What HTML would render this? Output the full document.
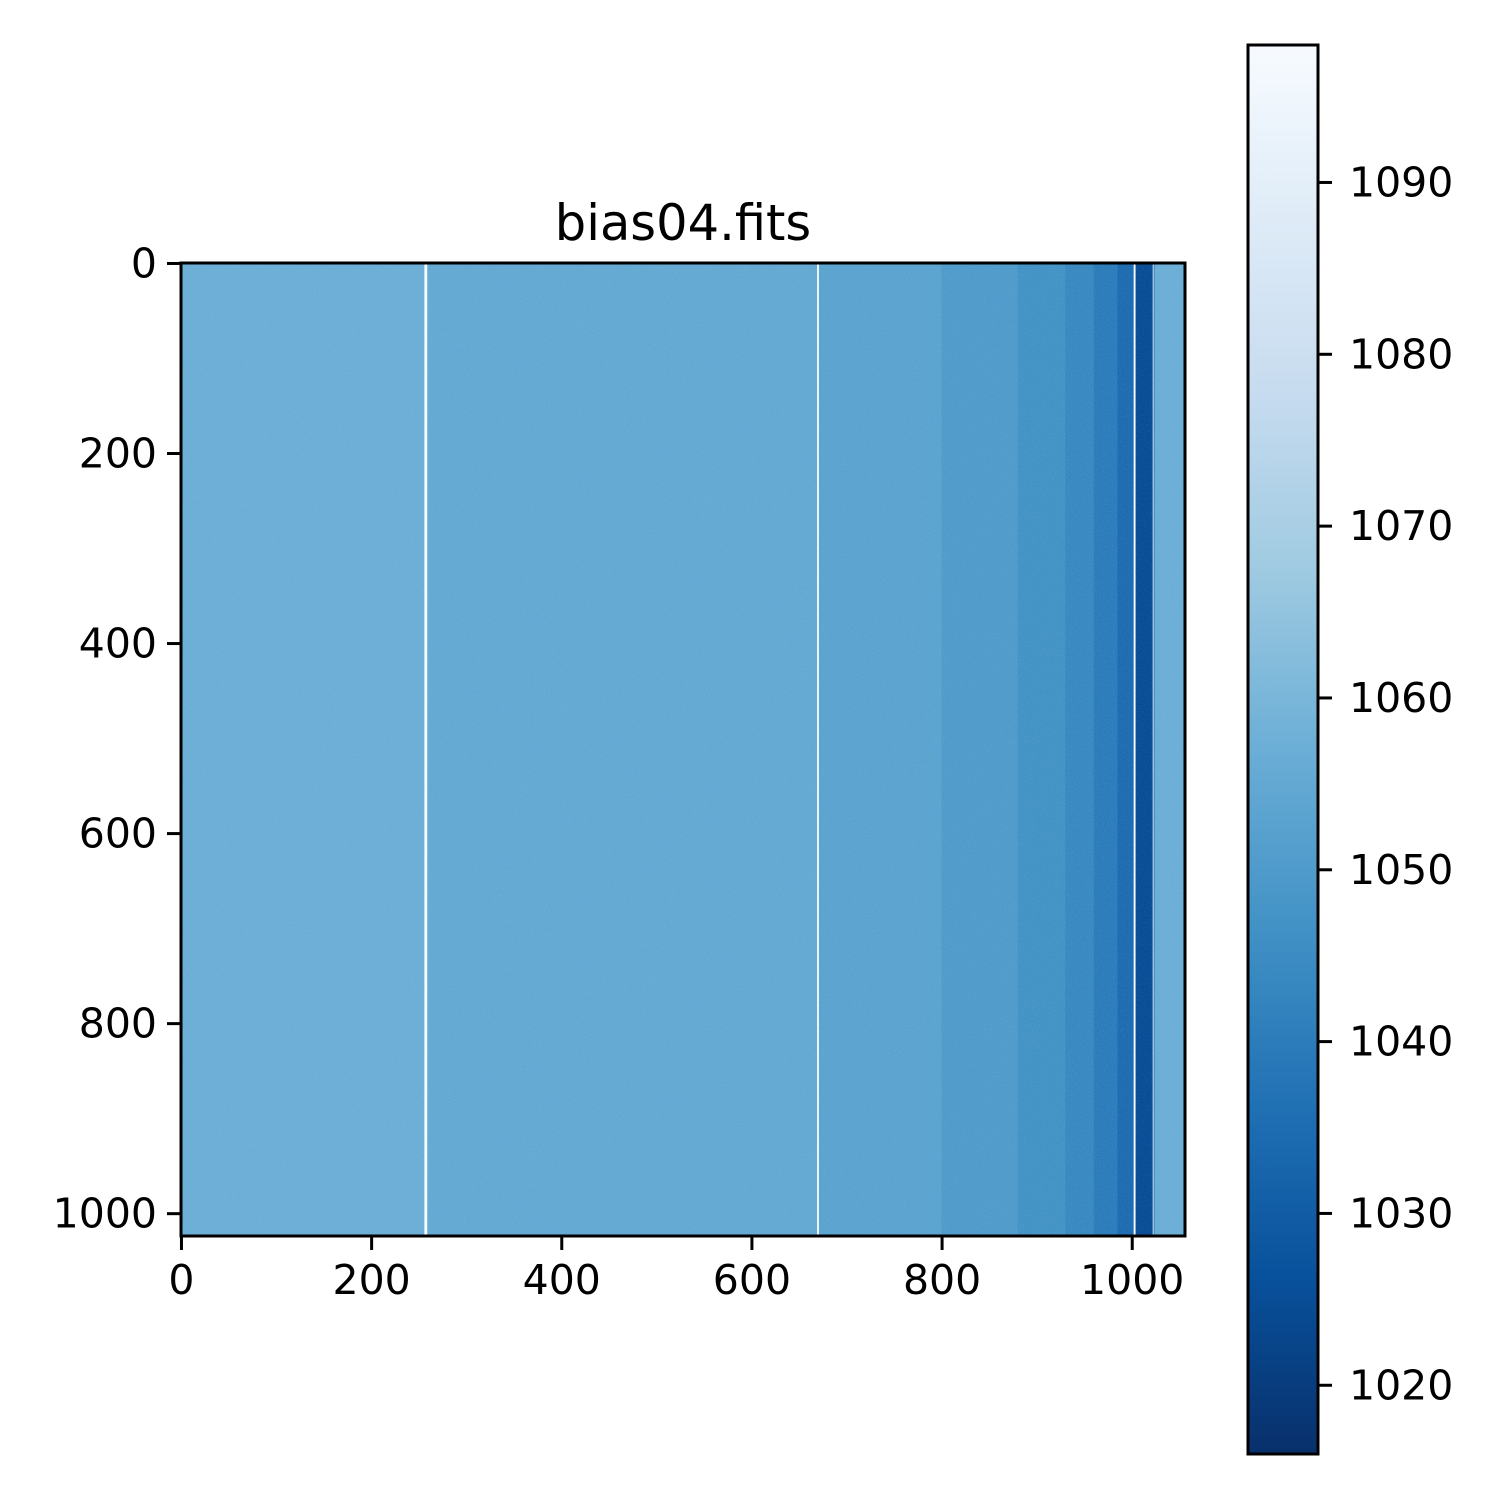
<!DOCTYPE html>
<html><head><meta charset="utf-8"><style>
html,body{margin:0;padding:0;background:#fff}
svg{display:block;font-family:"DejaVu Sans","Liberation Sans",sans-serif}
</style></head><body>
<svg id="chart" width="1500" height="1500" viewBox="0 0 1500 1500" xmlns="http://www.w3.org/2000/svg">
<defs>
<clipPath id="imgclip"><rect x="181" y="263" width="1004" height="973"/></clipPath>
<filter id="noise" x="0" y="0" width="100%" height="100%">
<feTurbulence type="fractalNoise" baseFrequency="0.9" numOctaves="2" seed="3"/>
<feColorMatrix type="matrix" values="0 0 0 0 1  0 0 0 0 1  0 0 0 0 1  0 0 0 1.6 -0.8"/>
</filter>
<linearGradient id="cbgrad" x1="0" y1="1" x2="0" y2="0">
<stop offset="0" stop-color="#08306b"/><stop offset="0.125" stop-color="#08519c"/>
<stop offset="0.25" stop-color="#2171b5"/><stop offset="0.375" stop-color="#4292c6"/>
<stop offset="0.5" stop-color="#6baed6"/><stop offset="0.625" stop-color="#9ecae1"/>
<stop offset="0.75" stop-color="#c6dbef"/><stop offset="0.875" stop-color="#deebf7"/>
<stop offset="1" stop-color="#f7fbff"/>
</linearGradient>
</defs>
<text x="683" y="240" text-anchor="middle" font-size="49.5">bias04.fits</text>
<g id="img" clip-path="url(#imgclip)"></g>
<rect x="181" y="263" width="1004" height="973" fill="#fff" filter="url(#noise)" opacity="0.18"/>
<rect x="181" y="263" width="1004" height="973" fill="none" stroke="#000" stroke-width="3"/>
<g id="xaxis"></g>
<g id="yaxis"></g>
<rect x="1248" y="45" width="70" height="1409" fill="url(#cbgrad)" stroke="#000" stroke-width="3"/>
<g id="cbaxis"></g>
</svg>
<script>
const segStart = [0,256,259,669,671,800,880,930,960,985,1002,1004,1022,1023,1024];
const segEnd   = [256,259,669,671,800,880,930,960,985,1002,1004,1022,1023,1024,1056];
const segValue = [1057,1098,1055,1096,1053,1050,1047,1044,1040,1035,1098,1025,1086,1040,1057];
const xTicks = [0,200,400,600,800,1000];
const yTicks = [0,200,400,600,800,1000];
const cbTicks = [1020,1030,1040,1050,1060,1070,1080,1090];
const nRows = 1024, nCols = 1056, vmin = 1016, vmax = 1098;

const NS = "http://www.w3.org/2000/svg";
const L=181,R=1185,T=263,B=1236;
const xs = c => L + (c+0.5)/nCols*(R-L);
const ys = r => T + (r+0.5)/nRows*(B-T);
const cbY = v => 1454 - (v-vmin)/(vmax-vmin)*1409;
const stops = ["#08306b","#08519c","#2171b5","#4292c6","#6baed6","#9ecae1","#c6dbef","#deebf7","#f7fbff"];
function cmap(v){
  let t=Math.max(0,Math.min(1,(v-vmin)/(vmax-vmin)))*8;
  let i=Math.min(7,Math.floor(t)),f=t-i;
  const h=s=>[1,3,5].map(k=>parseInt(s.substr(k,2),16));
  const a=h(stops[i]),b=h(stops[i+1]);
  return "rgb("+a.map((x,k)=>Math.round(x+(b[k]-x)*f)).join(",")+")";
}
function el(tag,attrs,parent){const e=document.createElementNS(NS,tag);for(const k in attrs)e.setAttribute(k,attrs[k]);parent.appendChild(e);return e;}
const img=document.getElementById("img");
segValue.forEach((v,i)=>{
  const x0=xs(segStart[i]-0.5), x1=xs(segEnd[i]-0.5);
  const r=el("rect",{x:x0,y:T,width:x1-x0+0.4,height:B-T,fill:cmap(v)},img);
  
  
});
const xa=document.getElementById("xaxis");
xTicks.forEach(t=>{
  const x=xs(t);
  const l=el("line",{x1:x,x2:x,y1:B,y2:B+14,stroke:"#000","stroke-width":3},xa);
  
  
  const tx=el("text",{x:x,y:B+58,"text-anchor":"middle","font-size":"41"},xa);
  tx.textContent=t;
  
  
});
const ya=document.getElementById("yaxis");
yTicks.forEach(t=>{
  const y=ys(t);
  const l=el("line",{x1:L-14,x2:L,y1:y,y2:y,stroke:"#000","stroke-width":3},ya);
  
  
  const tx=el("text",{x:L-24,y:y+14,"text-anchor":"end","font-size":"41"},ya);
  tx.textContent=t;
  
  
});
const ca=document.getElementById("cbaxis");
cbTicks.forEach(t=>{
  const y=cbY(t);
  const l=el("line",{x1:1318,x2:1332,y1:y,y2:y,stroke:"#000","stroke-width":3},ca);
  
  
  const tx=el("text",{x:1349,y:y+14,"font-size":"41"},ca);
  tx.textContent=t;
  
  
});
</script>
</body></html>
